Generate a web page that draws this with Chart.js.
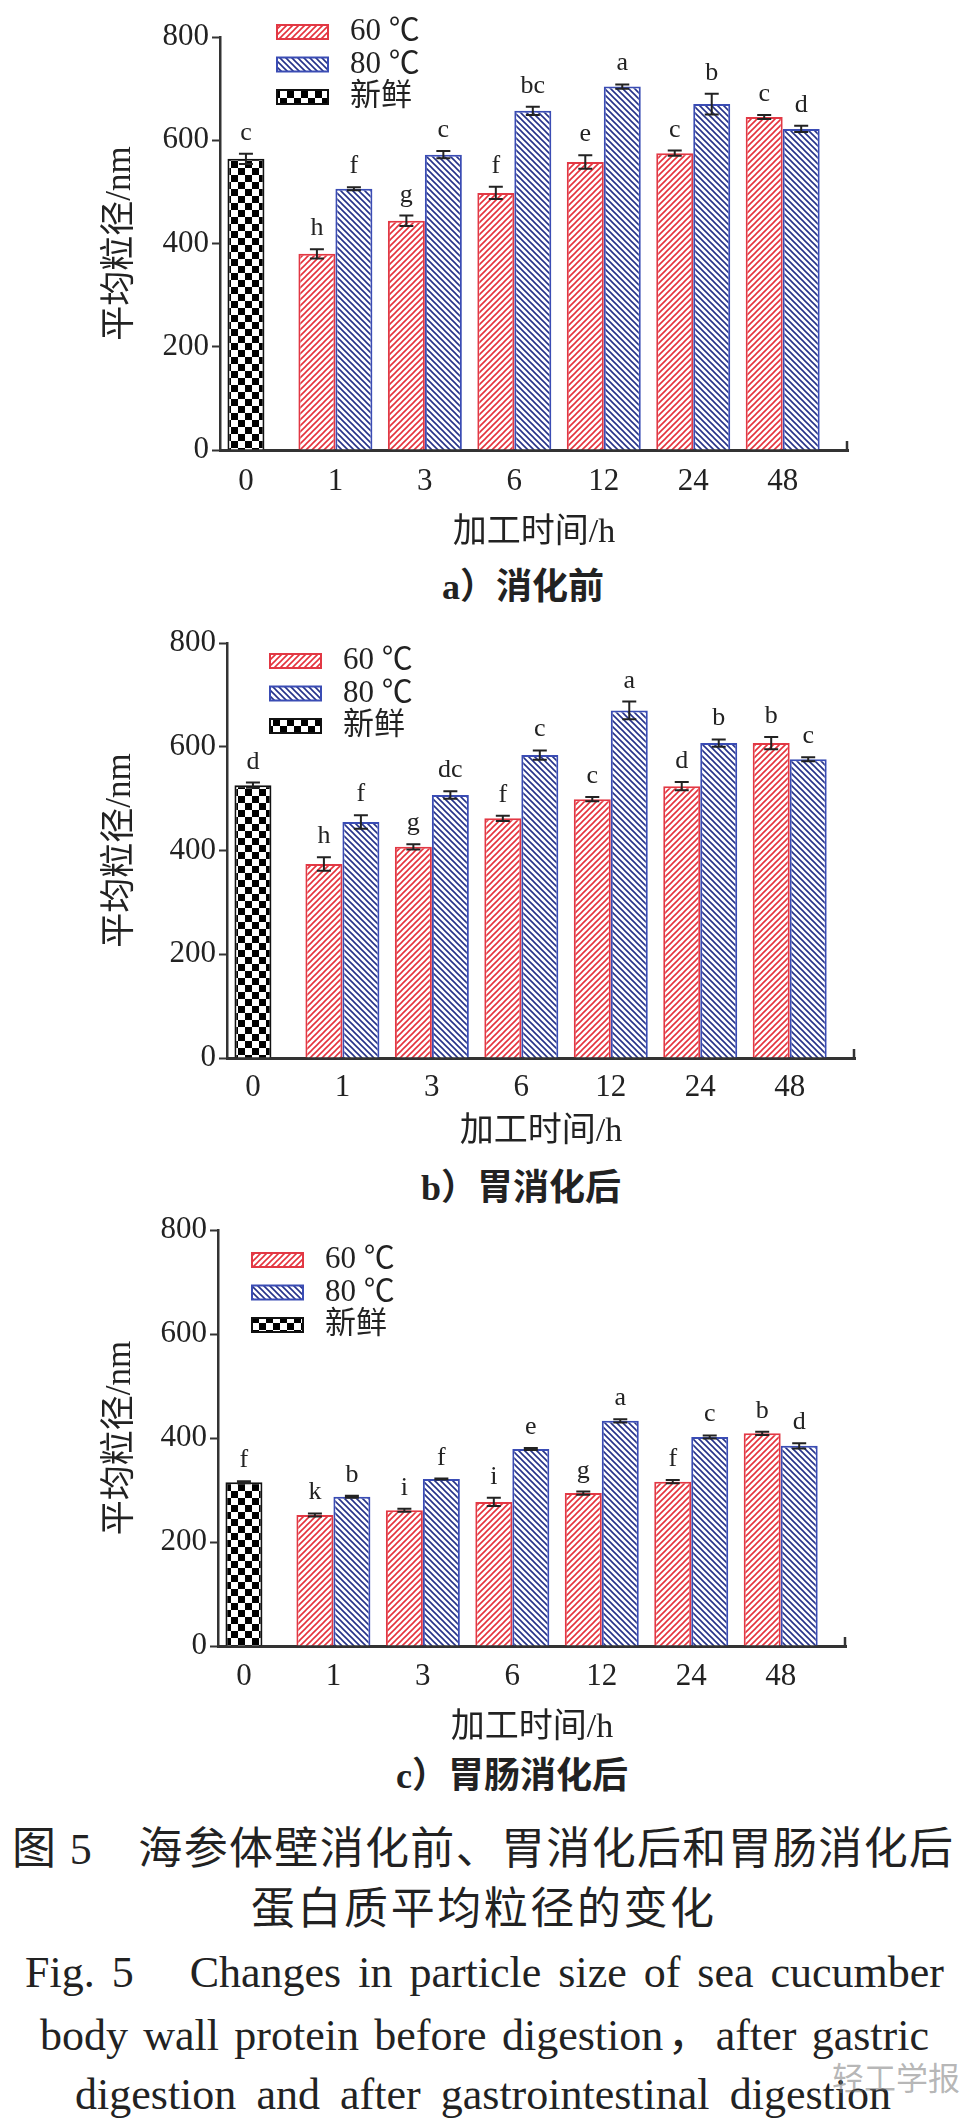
<!DOCTYPE html>
<html lang="zh">
<head>
  <meta charset="UTF-8" />
  <title>海参体壁蛋白质平均粒径的变化</title>
  <script src="https://cdn.jsdelivr.net/npm/chart.js"></script>
  <style>
    * { box-sizing: border-box; }

    body {
      margin: 0;
      width: 962px;
      height: 2126px;
      position: relative;
      overflow: hidden;
      background: #fff;
      color: #222;
      font-family: 'Liberation Serif', 'Noto Sans CJK SC', serif;
    }

    .panel {
      position: absolute;
      left: 0;
      width: 962px;
    }

    .sub {
      position: absolute;
      transform: translate(-50%, -50%);
      font-size: 36px;
      line-height: 1;
      white-space: nowrap;
      font-weight: bold;
    }

    .cap {
      position: absolute;
      line-height: 1;
      text-align: justify;
      text-align-last: justify;
    }

    .zh { font-size: 44px; }
    .en { font-size: 44px; }

    .mark {
      position: absolute;
      left: 832px;
      top: 2060px;
      font-size: 32px;
      line-height: 1;
      white-space: nowrap;
      color: rgba(120, 120, 120, 0.55);
      font-family: 'Noto Sans CJK SC', sans-serif;
    }
  </style>
</head>
<body>
  <div class="panel" id="pa" style="top:0;height:558px"><canvas id="chartA"></canvas></div>
  <div class="sub" style="left:523px;top:587px">a）消化前</div>

  <div class="panel" id="pb" style="top:600px;height:566px"><canvas id="chartB"></canvas></div>
  <div class="sub" style="left:521px;top:1188px">b）胃消化后</div>

  <div class="panel" id="pc" style="top:1190px;height:564px"><canvas id="chartC"></canvas></div>
  <div class="sub" style="left:512px;top:1776px">c）胃肠消化后</div>

  <div class="cap zh" style="left:12px;width:941px;top:1828px">图 5　海参体壁消化前、胃消化后和胃肠消化后</div>
  <div class="cap zh" style="left:251px;width:463px;top:1888px">蛋白质平均粒径的变化</div>
  <div class="cap en" style="left:25px;width:919px;top:1951px">Fig. 5　Changes in particle size of sea cucumber</div>
  <div class="cap en" style="left:40px;width:889px;top:2014px">body wall protein before digestion，after gastric</div>
  <div class="cap en" style="left:75px;width:816px;top:2073px">digestion and after gastrointestinal digestion</div>
  <div class="mark">轻工学报</div>

  <script>
    // categories
    const times = ['0', '1', '3', '6', '12', '24', '48'];
    const seriesNames = ['60 ℃', '80 ℃', '新鲜'];

    // a) before digestion
    const beforeFresh = [564];
    const beforeFreshSd = [10];
    const beforeFreshSig = ['c'];
    const before60 = [380, 444, 498, 558, 575, 645];
    const before60Sd = [9, 10, 12, 13, 5, 4];
    const before60Sig = ['h', 'g', 'f', 'e', 'c', 'c'];
    const before80 = [506, 572, 657, 704, 670, 622];
    const before80Sd = [3, 7, 8, 4, 20, 6];
    const before80Sig = ['f', 'c', 'bc', 'a', 'b', 'd'];

    // b) after gastric digestion
    const gastricFresh = [526];
    const gastricFreshSd = [5];
    const gastricFreshSig = ['d'];
    const gastric60 = [374, 407, 462, 499, 524, 607];
    const gastric60Sd = [13, 5, 5, 4, 8, 12];
    const gastric60Sig = ['h', 'g', 'f', 'c', 'd', 'b'];
    const gastric80 = [455, 507, 584, 670, 607, 576];
    const gastric80Sd = [13, 7, 9, 17, 7, 4];
    const gastric80Sig = ['f', 'dc', 'c', 'a', 'b', 'c'];

    // c) after gastrointestinal digestion
    const intestFresh = [315];
    const intestFreshSd = [2];
    const intestFreshSig = ['f'];
    const intest60 = [252, 261, 277, 294, 316, 409];
    const intest60Sd = [3, 3, 8, 3, 3, 3];
    const intest60Sig = ['k', 'i', 'i', 'g', 'f', 'b'];
    const intest80 = [287, 321, 379, 433, 402, 385];
    const intest80Sd = [2, 1, 2, 3, 3, 5];
    const intest80Sig = ['b', 'f', 'e', 'a', 'c', 'd'];

    const yTicks = { min: 0, max: 800, step: 200 };

    Chart.defaults.font.family = "'Liberation Serif', 'Noto Sans CJK SC', serif";
    Chart.defaults.color = '#222';

    function hatch(color, forward) {
      const s = 6;
      const c = document.createElement('canvas');
      c.width = c.height = s;
      const g = c.getContext('2d');
      g.fillStyle = '#fff';
      g.fillRect(0, 0, s, s);
      g.strokeStyle = color;
      g.lineWidth = 1.6;
      g.beginPath();
      if (forward) {
        g.moveTo(0, s); g.lineTo(s, 0);
        g.moveTo(-1, 1); g.lineTo(1, -1);
        g.moveTo(s - 1, s + 1); g.lineTo(s + 1, s - 1);
      } else {
        g.moveTo(0, 0); g.lineTo(s, s);
        g.moveTo(-1, s - 1); g.lineTo(1, s + 1);
        g.moveTo(s - 1, -1); g.lineTo(s + 1, 1);
      }
      g.stroke();
      return g.createPattern(c, 'repeat');
    }

    function checker(cell) {
      const c = document.createElement('canvas');
      c.width = c.height = cell * 2;
      const g = c.getContext('2d');
      g.fillStyle = '#fff';
      g.fillRect(0, 0, cell * 2, cell * 2);
      g.fillStyle = '#000';
      g.fillRect(0, 0, cell, cell);
      g.fillRect(cell, cell, cell, cell);
      return g.createPattern(c, 'repeat');
    }

    const redFill = hatch('#e5323c', true);
    const blueFill = hatch('#26328a', false);
    const freshFill = checker(7);

    // error bars, significance letters, inner legend
    const decor = {
      id: 'decor',
      afterDatasetsDraw(chart, args, opts) {
        const ctx = chart.ctx;
        const y = chart.scales.y;
        const area = chart.chartArea;
        ctx.save();
        chart.data.datasets.forEach((ds, di) => {
          const meta = chart.getDatasetMeta(di);
          meta.data.forEach((bar, i) => {
            const v = ds.data[i];
            if (v == null) return;
            const sd = ds.sd[i] || 0;
            const top = y.getPixelForValue(v + sd);
            const low = y.getPixelForValue(v - sd);
            ctx.strokeStyle = '#222';
            ctx.lineWidth = 2;
            ctx.beginPath();
            ctx.moveTo(bar.x, low); ctx.lineTo(bar.x, top);
            ctx.moveTo(bar.x - 7, top); ctx.lineTo(bar.x + 7, top);
            ctx.moveTo(bar.x - 7, low); ctx.lineTo(bar.x + 7, low);
            ctx.stroke();
            ctx.fillStyle = '#222';
            ctx.font = "26px 'Liberation Serif', serif";
            ctx.textAlign = 'center';
            ctx.textBaseline = 'alphabetic';
            ctx.fillText(ds.sig[i], bar.x, top - 14);
          });
        });

        // small end tick on the x axis
        ctx.strokeStyle = '#333';
        ctx.lineWidth = 2.5;
        ctx.beginPath();
        ctx.moveTo(area.right - 1, area.bottom);
        ctx.lineTo(area.right - 1, area.bottom - 9);
        ctx.stroke();

        // legend inside the plot
        const lg = opts.legend;
        [1, 2, 0].forEach((di, row) => {
          const ds = chart.data.datasets[di];
          const cy = lg.top + row * 32.5;
          ctx.fillStyle = ds.backgroundColor;
          ctx.fillRect(lg.left, cy - 7, 51, 14);
          ctx.strokeStyle = ds.borderColor;
          ctx.lineWidth = 2;
          ctx.strokeRect(lg.left, cy - 7, 51, 14);
          ctx.fillStyle = '#222';
          ctx.font = "31px 'Liberation Serif', 'Noto Sans CJK SC', serif";
          ctx.textAlign = 'left';
          ctx.textBaseline = 'middle';
          ctx.fillText(ds.label, lg.left + 73, cy);
        });
        ctx.restore();
      }
    };

    function makePanel(canvasId, p) {
      const blanks = p.s60.map(() => null);
      new Chart(document.getElementById(canvasId), {
        type: 'bar',
        data: {
          labels: times.map((t, i) => i),
          datasets: [
            {
              label: seriesNames[2],
              data: [p.fresh[0], ...blanks],
              sd: [p.freshSd[0], ...blanks],
              sig: [p.freshSig[0], ...blanks],
              backgroundColor: freshFill,
              hoverBackgroundColor: freshFill,
              borderColor: '#111',
              barPercentage: 0.5
            },
            {
              label: seriesNames[0],
              data: [null, ...p.s60],
              sd: [null, ...p.sd60],
              sig: [null, ...p.sig60],
              backgroundColor: redFill,
              hoverBackgroundColor: redFill,
              borderColor: '#e23844'
            },
            {
              label: seriesNames[1],
              data: [null, ...p.s80],
              sd: [null, ...p.sd80],
              sig: [null, ...p.sig80],
              backgroundColor: blueFill,
              hoverBackgroundColor: blueFill,
              borderColor: '#3a4cb4'
            }
          ]
        },
        options: {
          responsive: true,
          maintainAspectRatio: false,
          animation: false,
          events: [],
          layout: { padding: { top: p.padTop, left: 90, right: p.padRight, bottom: 0 } },
          datasets: {
            bar: {
              categoryPercentage: 0.827,
              barPercentage: 1,
              skipNull: true,
              borderWidth: 2,
              borderSkipped: 'bottom'
            }
          },
          plugins: {
            legend: { display: false },
            tooltip: { enabled: false },
            decor: { legend: p.legend }
          },
          scales: {
            x: {
              type: 'linear',
              offset: false,
              min: -0.29,
              max: 6.73,
              grid: { display: false, drawTicks: false },
              border: { display: true, color: '#333', width: 3 },
              ticks: {
                stepSize: 1,
                includeBounds: false,
                autoSkip: false,
                maxRotation: 0,
                padding: p.tickPad,
                font: { size: 31 },
                color: '#222',
                callback: v => times[v]
              },
              title: {
                display: true,
                text: '加工时间/h',
                font: { size: 34 },
                color: '#222',
                padding: { top: 0, bottom: p.xTitlePad }
              },
              afterFit: s => { s.height = 108; }
            },
            y: {
              min: yTicks.min,
              max: yTicks.max,
              ticks: { stepSize: yTicks.step, padding: 3, font: { size: 31 }, color: '#222' },
              grid: { drawOnChartArea: false, drawTicks: true, tickLength: 8, tickWidth: 2, tickColor: '#333' },
              border: { display: true, color: '#333', width: 2.5 },
              title: {
                display: true,
                text: '平均粒径/nm',
                font: { size: 35 },
                color: '#222',
                padding: { top: 10, bottom: 0 }
              },
              afterFit: s => { s.width = p.axisX - 90; }
            }
          }
        },
        plugins: [decor]
      });
    }

    makePanel('chartA', {
      fresh: beforeFresh, freshSd: beforeFreshSd, freshSig: beforeFreshSig,
      s60: before60, sd60: before60Sd, sig60: before60Sig,
      s80: before80, sd80: before80Sd, sig80: before80Sig,
      padTop: 37, axisX: 220, padRight: 114, tickPad: 13, xTitlePad: 5,
      legend: { left: 277, top: 32 }
    });

    makePanel('chartB', {
      fresh: gastricFresh, freshSd: gastricFreshSd, freshSig: gastricFreshSig,
      s60: gastric60, sd60: gastric60Sd, sig60: gastric60Sig,
      s80: gastric80, sd80: gastric80Sd, sig80: gastric80Sig,
      padTop: 43, axisX: 227, padRight: 107, tickPad: 11, xTitlePad: 14,
      legend: { left: 270, top: 61 }
    });

    makePanel('chartC', {
      fresh: intestFresh, freshSd: intestFreshSd, freshSig: intestFreshSig,
      s60: intest60, sd60: intest60Sd, sig60: intest60Sig,
      s80: intest80, sd80: intest80Sd, sig80: intest80Sig,
      padTop: 40, axisX: 218, padRight: 116, tickPad: 12, xTitlePad: 6,
      legend: { left: 252, top: 70 }
    });
  </script>
</body>
</html>
